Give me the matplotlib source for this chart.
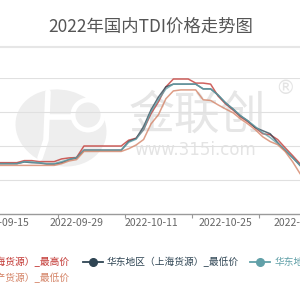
import matplotlib
matplotlib.use("Agg")
import matplotlib.pyplot as plt
from matplotlib.lines import Line2D
from matplotlib.patches import Ellipse, Circle
from matplotlib.ticker import FixedLocator

plt.rcParams["font.family"] = ["Noto Sans CJK SC", "DejaVu Sans"]

# TDI 华东地区报价（元/吨），按交易日
dates = [
    "2022-09-14", "2022-09-15", "2022-09-16", "2022-09-19", "2022-09-20", "2022-09-21",
    "2022-09-22", "2022-09-23", "2022-09-26", "2022-09-27", "2022-09-28", "2022-09-29",
    "2022-09-30", "2022-10-03", "2022-10-04", "2022-10-05", "2022-10-06", "2022-10-07",
    "2022-10-08", "2022-10-09", "2022-10-10", "2022-10-11", "2022-10-12", "2022-10-13",
    "2022-10-14", "2022-10-17", "2022-10-18", "2022-10-19", "2022-10-20", "2022-10-21",
    "2022-10-24", "2022-10-25", "2022-10-26", "2022-10-27", "2022-10-28", "2022-10-31",
    "2022-11-01", "2022-11-02", "2022-11-03", "2022-11-04", "2022-11-07", "2022-11-08",
]
sh_high = [
    17550, 17550, 17550, 17550, 17850, 17850, 17700, 17700, 17700, 18100, 18250, 18300,
    20000, 20000, 20000, 20000, 20000, 20000, 20850, 21150, 22400, 24750, 26500, 28700,
    29850, 29850, 29850, 29250, 29250, 29100, 27350, 26200, 25300, 24300, 23550, 22700,
    21800, 21650, 20950, 19750, 18600, 17400,
]
sh_low = [
    17400, 17400, 17400, 17400, 17650, 17550, 17500, 17350, 17350, 17550, 18000, 18250,
    19400, 19400, 19400, 19400, 19400, 19400, 20650, 21100, 22850, 25300, 27200, 28700,
    29100, 29100, 29100, 29100, 28400, 28400, 27500, 26350, 25450, 24450, 23700, 22700,
    22250, 21800, 20500, 19350, 18300, 17150,
]
gc_high = [
    17400, 17400, 17400, 17400, 17700, 17650, 17550, 17400, 17400, 17700, 18000, 18300,
    19350, 19350, 19350, 19350, 19350, 19350, 20550, 21000, 22400, 25050, 26800, 28400,
    29100, 29100, 29100, 29100, 28400, 28400, 27500, 26350, 25450, 24450, 23700, 22850,
    21950, 21250, 20350, 19450, 18300, 17150,
]
gc_low = [
    17150, 17150, 17150, 17150, 17150, 17150, 17150, 17150, 17150, 17400, 17800, 18000,
    19200, 19200, 19200, 19200, 19200, 19200, 19600, 20150, 20950, 23250, 24600, 26950,
    28100, 28250, 28250, 28250, 26800, 26700, 26050, 25450, 24900, 24000, 23250, 22400,
    21350, 20650, 20200, 19200, 17700, 15950,
]
series_names = [
    "华东地区（上海货源）_最高价",
    "华东地区（上海货源）_最低价",
    "华东地区（国产货源）_最高价",
    "华东地区（国产货源）_最低价",
]
series_colors = ["#c23531", "#2f4554", "#61a0a8", "#d48265"]
title = "2022年国内TDI价格走势图"

fig = plt.figure(figsize=(3, 3), dpi=100)

# fond en pixels : titre, filigrane, legende
bg = fig.add_axes([0, 0, 1, 1])
bg.set_xlim(0, 300)
bg.set_ylim(300, 0)
bg.axis("off")

bg.text(151, 27, title, ha="center", va="center", fontsize=12.5, color="#555555")
bg.add_line(Line2D([0, 300], [47, 47], color="#e6e6e6", lw=1.5))

# filigrane 金联创
bg.add_patch(Ellipse((61, 128), 92, 76, angle=15, fc="#eeeeee", ec="none", zorder=0))
bg.add_line(Line2D([48, 46, 40], [92, 140, 158], color="white", lw=4, zorder=1,
                   solid_capstyle="round"))
bg.add_line(Line2D([48, 74], [117, 117], color="white", lw=4, zorder=1))
bg.add_patch(Circle((88, 115), 15, fc="#eeeeee", ec="white", lw=3.5, zorder=1))
bg.text(197, 115, "金联创", ha="center", va="center", fontsize=33, color="#e6e6e6", zorder=0)
bg.text(195, 150, "www.315i.com", ha="center", va="center", fontsize=12,
        color="#e4e4e4", family="DejaVu Sans", zorder=0)
bg.text(285, 89, "®", ha="center", va="center", fontsize=14, color="#e4e4e4",
        family="DejaVu Sans", zorder=0)

# legende (coupee par le cadre, comme sur l'original)
leg_fs = 7
bg.text(70, 262, series_names[0], ha="right", va="center", fontsize=leg_fs, color=series_colors[0])
bg.add_line(Line2D([83, 103], [262, 262], color=series_colors[1], lw=1.3))
bg.plot([93], [262], "o", ms=5.5, color=series_colors[1])
bg.text(107, 262, series_names[1], ha="left", va="center", fontsize=leg_fs, color=series_colors[1])
bg.add_line(Line2D([250, 270], [262, 262], color=series_colors[2], lw=1.3))
bg.plot([260], [262], "o", ms=5.5, color=series_colors[2])
bg.text(275, 262, series_names[2], ha="left", va="center", fontsize=leg_fs, color=series_colors[2])
bg.text(70, 278, series_names[3], ha="right", va="center", fontsize=leg_fs, color=series_colors[3])

# graphique principal
ax = fig.add_axes([0, 86 / 300, 1, 136 / 300])
ax.set_facecolor("none")
x = list(range(len(dates)))
for vals, c in zip([sh_high, sh_low, gc_high, gc_low], series_colors):
    ax.plot(x, vals, color=c, lw=1.1, alpha=0.78)

ax.set_xlim(0.73, 40.89)
ax.set_ylim(10000, 30000)
ax.set_yticks([15000, 20000, 25000, 30000])
ax.yaxis.grid(True, color="#e0e0e0", lw=0.8)
ax.set_axisbelow(True)
ax.tick_params(axis="y", length=0, labelleft=False)

ax.set_xticks(x[1::10])
ax.set_xticklabels(dates[1::10])
ax.xaxis.set_minor_locator(FixedLocator([8.5, 17.5, 26.5, 35.5]))
ax.tick_params(axis="x", which="major", length=0, pad=3, labelsize=7.5, labelcolor="#666666")
ax.tick_params(axis="x", which="minor", length=3, width=0.8, color="#999999")

for side in ["left", "right", "top"]:
    ax.spines[side].set_visible(False)
ax.spines["bottom"].set_color("#9a9a9a")
ax.spines["bottom"].set_linewidth(1)

fig.savefig("out.png", dpi=100)
